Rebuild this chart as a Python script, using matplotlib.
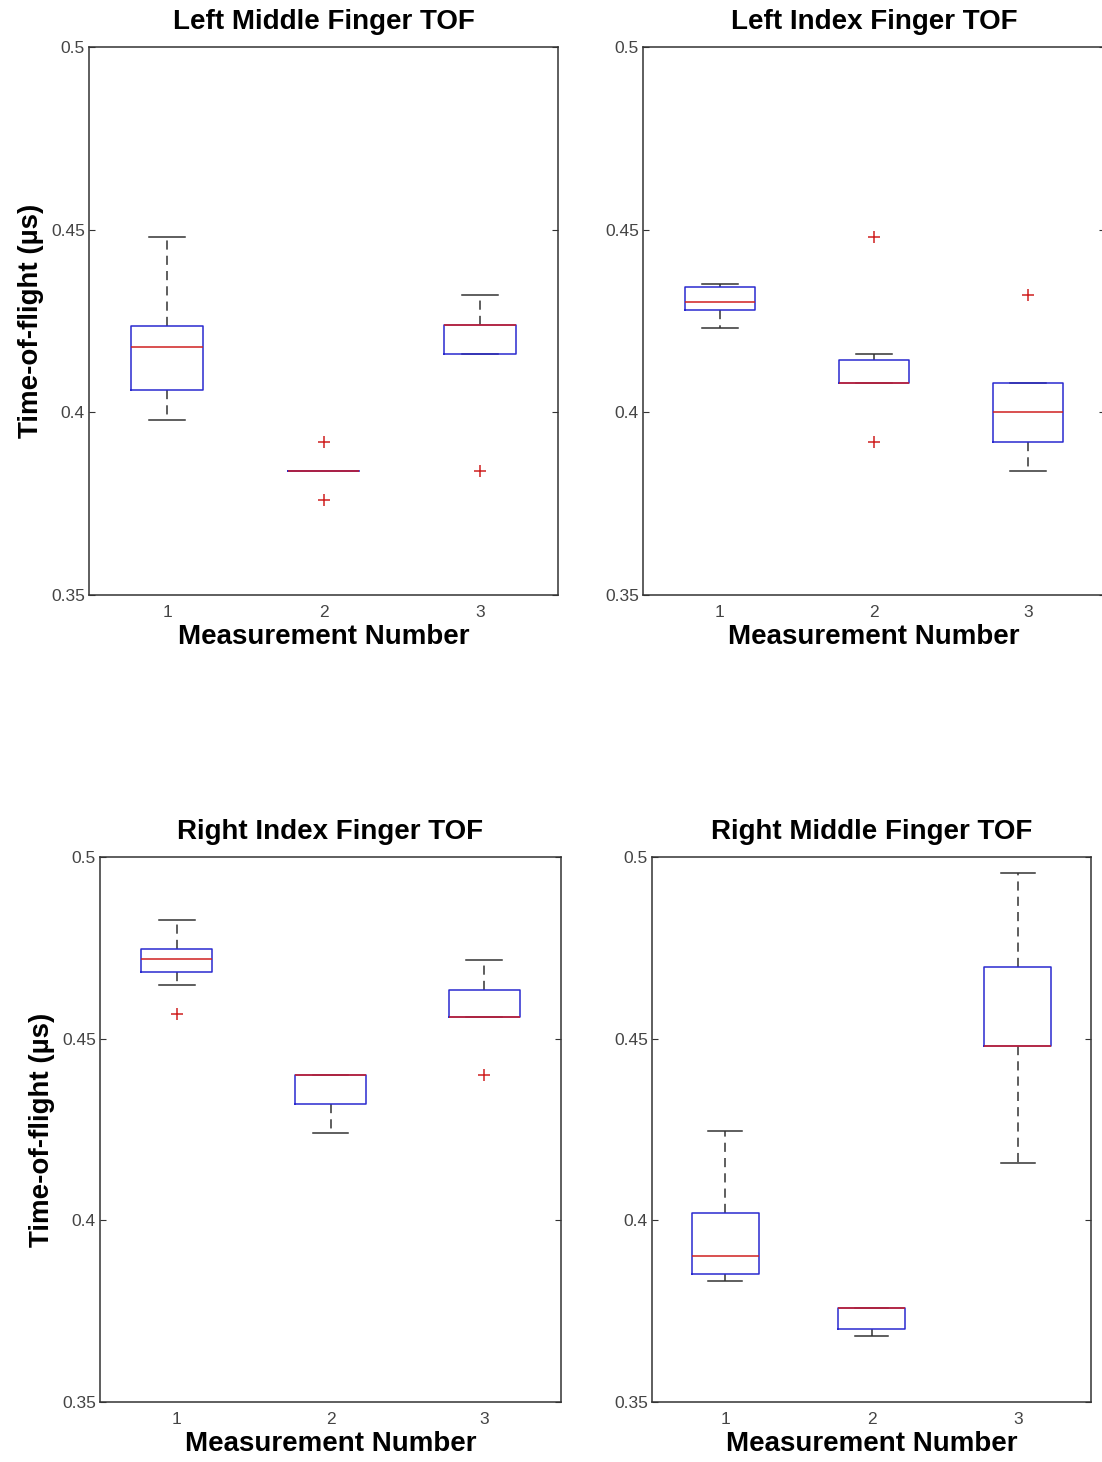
import matplotlib.pyplot as plt
from matplotlib.ticker import FixedLocator

plt.rcParams['font.family'] = ['Liberation Sans', 'DejaVu Sans']

titles = ['Left Middle Finger TOF', 'Left Index Finger TOF',
          'Right Index Finger TOF', 'Right Middle Finger TOF']
positions = [1, 2, 3]
x_ticklabels = ['1', '2', '3']
y_ticks = [0.35, 0.4, 0.45, 0.5]
y_ticklabels = ['0.35', '0.4', '0.45', '0.5']

lmf_q1 = [0.406, 0.384, 0.416]
lmf_med = [0.418, 0.384, 0.424]
lmf_q3 = [0.4237, 0.384, 0.424]
lmf_lo = [0.398, 0.384, 0.416]
lmf_hi = [0.448, 0.384, 0.432]
lmf_out = [[], [0.392, 0.376], [0.384]]

lif_q1 = [0.428, 0.408, 0.392]
lif_med = [0.4303, 0.408, 0.400]
lif_q3 = [0.4343, 0.4142, 0.408]
lif_lo = [0.423, 0.408, 0.384]
lif_hi = [0.4351, 0.4161, 0.408]
lif_out = [[], [0.448, 0.392], [0.432]]

rif_q1 = [0.4683, 0.432, 0.456]
rif_med = [0.4718, 0.440, 0.456]
rif_q3 = [0.4748, 0.440, 0.4635]
rif_lo = [0.4648, 0.424, 0.456]
rif_hi = [0.4826, 0.440, 0.4717]
rif_out = [[0.4567], [], [0.440]]

rmf_q1 = [0.3851, 0.3702, 0.448]
rmf_med = [0.3901, 0.3759, 0.448]
rmf_q3 = [0.4019, 0.3759, 0.4697]
rmf_lo = [0.3832, 0.3683, 0.4159]
rmf_hi = [0.4247, 0.3759, 0.4956]
rmf_out = [[], [], []]

panels = [
    (lmf_q1, lmf_med, lmf_q3, lmf_lo, lmf_hi, lmf_out),
    (lif_q1, lif_med, lif_q3, lif_lo, lif_hi, lif_out),
    (rif_q1, rif_med, rif_q3, rif_lo, rif_hi, rif_out),
    (rmf_q1, rmf_med, rmf_q3, rmf_lo, rmf_hi, rmf_out),
]

W, H = 1102, 1462
fig = plt.figure(figsize=(W / 100, H / 100), dpi=100)

# axes boxes in pixels: left, right, top, bottom
boxes_px = [(89, 558, 47, 595), (643, 1105, 47, 595),
            (100, 561, 857, 1402), (652, 1091, 857, 1402)]

for i, (q1, med, q3, lo, hi, out) in enumerate(panels):
    l, r, t, b = boxes_px[i]
    ax = fig.add_axes([l / W, 1 - b / H, (r - l) / W, (b - t) / H])
    stats = []
    for j in range(3):
        stats.append({'q1': q1[j], 'med': med[j], 'q3': q3[j],
                      'whislo': lo[j], 'whishi': hi[j], 'fliers': out[j]})
    ax.bxp(stats, positions=positions, widths=0.46,
           boxprops=dict(color='#2a2ad0', linewidth=1.1, zorder=2.3),
           medianprops=dict(color='#d02020', linewidth=1.1, zorder=2.5),
           whiskerprops=dict(color='#333333', linewidth=1.1, linestyle=(0, (6, 4)), zorder=2),
           capprops=dict(color='#333333', linewidth=1.1, zorder=2),
           flierprops=dict(marker='+', markeredgecolor='#d02020', markersize=9,
                           markeredgewidth=1.1, linestyle='none'))
    ax.set_xlim(0.5, 3.5)
    ax.set_ylim(0.35, 0.5)
    ax.yaxis.set_major_locator(FixedLocator(y_ticks))
    ax.set_yticklabels(y_ticklabels)
    ax.set_xticks(positions)
    ax.set_xticklabels(x_ticklabels)
    ax.tick_params(axis='y', direction='in', length=4, right=True, left=True,
                   labelsize=12.5, labelcolor='#444444', color='#333333', pad=3)
    ax.tick_params(axis='x', length=0, labelsize=12.5, labelcolor='#444444', pad=7)
    for s in ax.spines.values():
        s.set_color('#333333')
        s.set_linewidth(1.1)
    ax.set_title(titles[i], fontsize=20, fontweight='bold', pad=13)
    ax.set_xlabel('Measurement Number', fontsize=20, fontweight='bold', labelpad=3)
    if i % 2 == 0:
        ax.set_ylabel('Time-of-flight (µs)', fontsize=20, fontweight='bold', labelpad=5)

fig.savefig('out.png', dpi=100)
